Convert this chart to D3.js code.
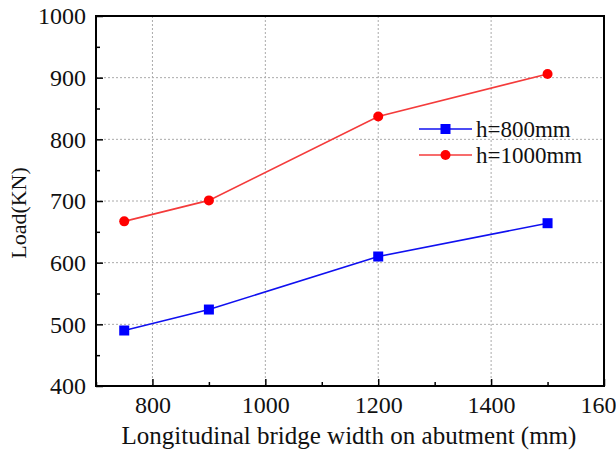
<!DOCTYPE html>
<html>
<head>
<meta charset="utf-8">
<script src="https://cdn.jsdelivr.net/npm/d3@7/dist/d3.min.js"></script>
<style>
  html, body { margin: 0; padding: 0; background: #fff; }
  svg { display: block; }
  svg text { font-family: "Liberation Serif", "Times New Roman", serif; fill: #111; }
</style>
</head>
<body>
<svg id="chart" width="616" height="456"></svg>
<script>
// Bridge width on the abutment (mm)
const widths = [750, 900, 1200, 1500];
// Load for each abutment height (kN)
const loadH800 = [490, 524, 610, 664];
const loadH1000 = [667, 701, 837, 906];
const seriesNames = ["h=800mm", "h=1000mm"];
const xTicks = [800, 1000, 1200, 1400, 1600];
const yTicks = [400, 500, 600, 700, 800, 900, 1000];

const svg = d3.select("#chart");
const m = { left: 96, top: 16, right: 604, bottom: 386 };

const x = d3.scaleLinear().domain([700, 1600]).range([m.left, m.right]);
const y = d3.scaleLinear().domain([400, 1000]).range([m.bottom, m.top]);

// dotted grid at the major ticks
const g = svg.append("g");
g.selectAll(".gx").data(xTicks.filter(d => d < 1600)).join("line")
  .attr("x1", d => x(d)).attr("x2", d => x(d))
  .attr("y1", m.top).attr("y2", m.bottom)
  .attr("stroke", "#aaa").attr("stroke-width", 1).attr("stroke-dasharray", "2,2");
g.selectAll(".gy").data(yTicks.filter(d => d > 400 && d < 1000)).join("line")
  .attr("y1", d => y(d)).attr("y2", d => y(d))
  .attr("x1", m.left).attr("x2", m.right)
  .attr("stroke", "#aaa").attr("stroke-width", 1).attr("stroke-dasharray", "2,2");

// axes with inward ticks
const xAxis = d3.axisBottom(x).tickValues(d3.range(700, 1601, 100))
  .tickSize(-7).tickFormat(d => xTicks.includes(d) ? d : "");
const ax = svg.append("g").attr("transform", `translate(0,${m.bottom})`).call(xAxis);
ax.selectAll(".tick line").attr("y2", d => xTicks.includes(d) ? -7 : -4);
const yAxis = d3.axisLeft(y).tickValues(d3.range(400, 1001, 50))
  .tickSize(-7).tickFormat(d => yTicks.includes(d) ? d : "");
const ay = svg.append("g").attr("transform", `translate(${m.left},0)`).call(yAxis);
ay.selectAll(".tick line").attr("x2", d => yTicks.includes(d) ? 7 : 4);

[ax, ay].forEach(a => {
  a.attr("font-family", null).attr("font-size", null);
  a.select(".domain").remove();
  a.selectAll(".tick line").attr("stroke", "#000").attr("stroke-width", 1.5);
  a.selectAll("text").style("font-size", "24px");
});
ax.selectAll("text").attr("dy", null).attr("y", 27);
ay.selectAll("text").attr("dy", "0.33em").attr("x", -10).attr("text-anchor", "end");

// frame
svg.append("rect").attr("x", m.left).attr("y", m.top)
  .attr("width", m.right - m.left).attr("height", m.bottom - m.top)
  .attr("fill", "none").attr("stroke", "#000").attr("stroke-width", 2);

// series
const line = d3.line().x(d => x(d[0])).y(d => y(d[1]));
const s800 = widths.map((w, i) => [w, loadH800[i]]);
const s1000 = widths.map((w, i) => [w, loadH1000[i]]);

svg.append("path").datum(s1000).attr("d", line)
  .attr("fill", "none").attr("stroke", "#f43b3b").attr("stroke-width", 1.6);
svg.selectAll(".c").data(s1000).join("circle")
  .attr("cx", d => x(d[0])).attr("cy", d => y(d[1])).attr("r", 5)
  .attr("fill", "#ff0000");

svg.append("path").datum(s800).attr("d", line)
  .attr("fill", "none").attr("stroke", "#1010f0").attr("stroke-width", 1.6);
svg.selectAll(".s").data(s800).join("rect")
  .attr("x", d => x(d[0]) - 5).attr("y", d => y(d[1]) - 5)
  .attr("width", 10).attr("height", 10).attr("fill", "#0000ff");

// legend
const leg = svg.append("g").attr("transform", "translate(419,129)");
leg.append("line").attr("x1", 0).attr("x2", 53).attr("y1", 0).attr("y2", 0)
  .attr("stroke", "#1010f0").attr("stroke-width", 1.6);
leg.append("rect").attr("x", 21.5).attr("y", -5).attr("width", 10).attr("height", 10).attr("fill", "#0000ff");
leg.append("text").attr("x", 57).attr("y", 8).text(seriesNames[0])
  .style("font-size", "23px");
leg.append("line").attr("x1", 0).attr("x2", 53).attr("y1", 26).attr("y2", 26)
  .attr("stroke", "#f43b3b").attr("stroke-width", 1.6);
leg.append("circle").attr("cx", 26.5).attr("cy", 26).attr("r", 5).attr("fill", "#ff0000");
leg.append("text").attr("x", 57).attr("y", 34).text(seriesNames[1])
  .style("font-size", "23px");

// axis titles
svg.append("text").attr("x", 349).attr("y", 444).attr("text-anchor", "middle")
  .style("font-size", "25px")
  .text("Longitudinal bridge width on abutment (mm)");
svg.append("text").attr("transform", "translate(26,213) rotate(-90)")
  .attr("text-anchor", "middle").style("font-size", "22px")
  .text("Load(KN)");
</script>
</body>
</html>
